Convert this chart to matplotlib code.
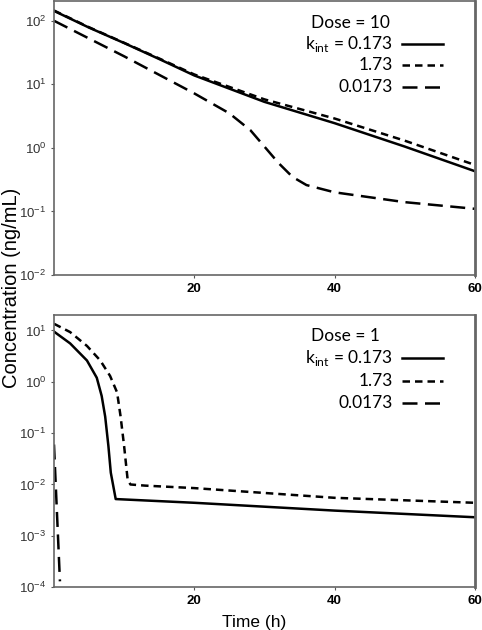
import matplotlib
matplotlib.use("Agg")
import matplotlib.pyplot as plt

# Dose = 10 panel
t_hi_solid = [0, 5, 10, 15, 20, 30, 40, 50, 60]
c_hi_solid = [143, 78, 44.6, 25, 13.8, 5.3, 2.45, 1.05, 0.43]
t_hi_dot = [0, 5, 10, 15, 20, 30, 40, 50, 60]
c_hi_dot = [145, 79, 45, 25.5, 14.3, 5.8, 2.9, 1.3, 0.54]
t_hi_dash = [0, 10, 20, 25, 28, 30, 32, 34, 36, 40, 50, 60]
c_hi_dash = [100, 27.6, 7.2, 3.5, 1.9, 1.05, 0.58, 0.35, 0.26, 0.2, 0.14, 0.11]

# Dose = 1 panel
t_lo_solid = [0, 2.3, 4.7, 6.1, 6.8, 7.3, 7.76, 8.1, 8.8, 20, 40, 60]
c_lo_solid = [9.5, 5.6, 2.6, 1.2, 0.53, 0.21, 0.056, 0.017, 0.0052, 0.0044, 0.0031, 0.0023]
t_lo_dot = [0, 2.3, 4.7, 6.6, 8.0, 9.0, 9.5, 10.0, 10.5, 10.9, 13, 20, 40, 60]
c_lo_dot = [13.5, 9.3, 5.0, 2.6, 1.3, 0.62, 0.21, 0.056, 0.0125, 0.01, 0.0095, 0.0085,
            0.0055, 0.0044]
t_lo_dash = [0, 0.85]
c_lo_dash = [0.06, 0.00013]

legend_labels = ["0.173", "1.73", "0.0173"]
doses = ["10", "1"]

fig = plt.figure(figsize=(4.82, 6.30), dpi=100)
ax1 = fig.add_axes([0.112, 0.5635, 0.873, 0.435])
ax2 = fig.add_axes([0.112, 0.068, 0.873, 0.432])

styles = [dict(ls="-", lw=1.8), dict(ls=(0, (3, 2)), lw=1.8), dict(ls=(0, (6, 3)), lw=1.8)]

panels = [
    (ax1, [(t_hi_solid, c_hi_solid), (t_hi_dot, c_hi_dot), (t_hi_dash, c_hi_dash)],
     (1e-2, 205), doses[0], [0.92, 0.843, 0.765, 0.686]),
    (ax2, [(t_lo_solid, c_lo_solid), (t_lo_dot, c_lo_dot), (t_lo_dash, c_lo_dash)],
     (1e-4, 20), doses[1], [0.923, 0.842, 0.757, 0.676]),
]

for ax, series, ylim, dose, rows in panels:
    for (t, c), st in zip(series, styles):
        ax.plot(t, c, color="black", **st)
    ax.set_yscale("log")
    ax.set_xlim(0, 60)
    ax.set_ylim(*ylim)
    ax.set_xticks([20, 40, 60])
    ax.set_xticklabels(["20", "40", "60"], fontweight="bold", fontsize=9.5,
                       family="Liberation Sans")
    ax.minorticks_off()
    ax.tick_params(axis="both", length=2, color="#555555")
    ax.tick_params(axis="y", labelsize=9.5, labelcolor="#333333")
    for lab in ax.get_yticklabels():
        lab.set_family("Liberation Sans")
    for sp in ax.spines.values():
        sp.set_color("#666666")
        sp.set_linewidth(1.2)
    ax.spines["right"].set_linewidth(2)

    # custom legend text block
    tf = ax.transAxes
    ax.text(0.61, rows[0], "Dose = " + dose, transform=tf, fontsize=12.5, family="Lato",
            ha="left", va="center")
    for i, (lab, st) in enumerate(zip(legend_labels, styles)):
        y = rows[i + 1]
        txt = lab if i else r"k$_{\mathregular{int}}$ = " + lab
        ax.text(0.806, y, txt, transform=tf, fontsize=12.5, family="Lato",
                ha="right", va="center")
        ax.plot([0.827, 0.924], [y, y], transform=tf, color="black", **st)

fig.text(0.024, 0.543, "Concentration (ng/mL)", rotation=90, ha="center", va="center",
         fontsize=14.5, family="Liberation Sans")
fig.text(0.527, 0.012, "Time (h)", ha="center", va="center", fontsize=12.5,
         family="Liberation Sans")

fig.savefig("out.png", dpi=100)
